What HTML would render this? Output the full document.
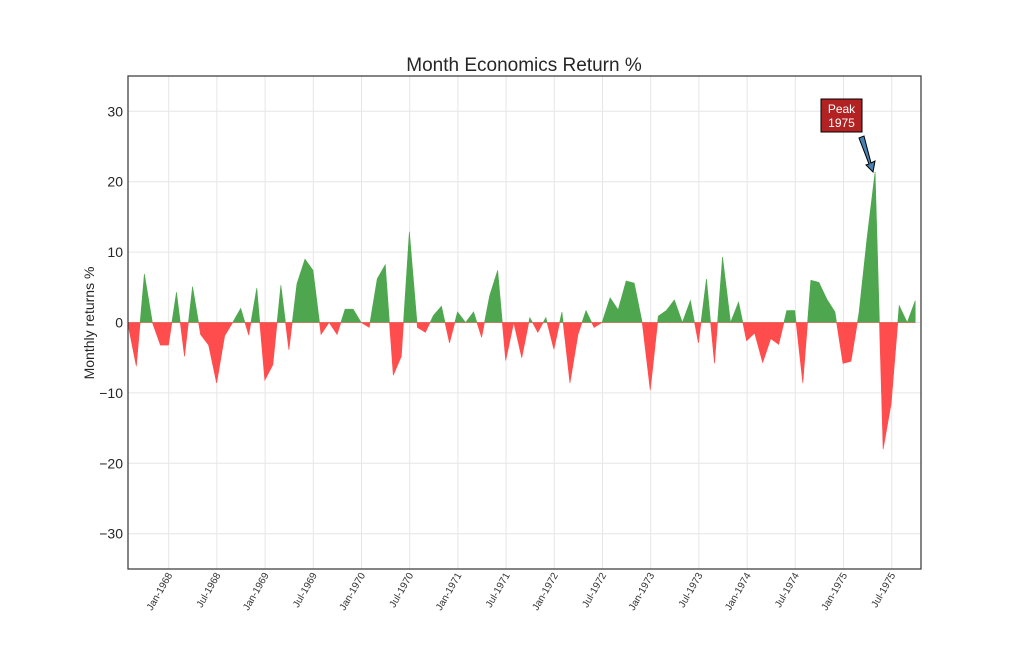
<!DOCTYPE html>
<html><head><meta charset="utf-8"><style>
body{margin:0;background:#fff;}
svg text{font-family:"Liberation Sans",sans-serif;}
</style></head><body>
<svg id="s" width="1024" height="640" xmlns="http://www.w3.org/2000/svg">
</svg>
<script>
const vals=[-0.5,-6.2,6.9,0,-3.2,-3.2,4.3,-4.8,5.1,-1.7,-3.2,-8.6,-1.9,0,2,-1.8,4.9,-8.2,-6,5.3,-3.9,5.5,9,7.4,-1.7,0,-1.7,1.9,1.9,0,-0.7,6.2,8.2,-7.5,-4.8,12.9,-0.7,-1.4,1,2.3,-2.9,1.5,0,1.5,-2.1,3.8,7.4,-5.4,0,-5,0.7,-1.4,0.7,-3.8,1.5,-8.6,-1.7,1.7,-0.7,0,3.5,1.8,5.9,5.6,0,-9.6,0.9,1.7,3.2,0,3.1,-2.9,6.2,-5.8,9.3,0,2.9,-2.6,-1.5,-5.7,-2.3,-3.1,1.7,1.7,-8.6,6,5.7,3.3,1.5,-5.8,-5.5,1.4,12,21.4,-18,-11.5,2.4,0,3.1];
const L=128,R=921,T=76,B=569;
const X=i=>128.3+8.03*i, Y=v=>322.5-7.04*v;
let h='';
// grid
for(let v=-30;v<=30;v+=10){h+=`<line x1="${L}" x2="${R}" y1="${Y(v)}" y2="${Y(v)}" stroke="#e6e6e6" stroke-width="1"/>`;}
const months=['Jan','Jul'];
for(let k=0;k<16;k++){const x=168.7+48.2*k;h+=`<line x1="${x}" x2="${x}" y1="${T}" y2="${B}" stroke="#e6e6e6" stroke-width="1"/>`;
 const lab=months[k%2]+'-'+(1968+Math.floor(k/2));
 h+=`<text transform="translate(${x+4},${B+6}) rotate(-60)" text-anchor="end" font-size="10" fill="#333">${lab}</text>`;}
// fills
function poly(sign,color){
 let pts=[];
 for(let i=0;i<vals.length;i++){
  const v=vals[i]*sign;
  if(i>0){const p=vals[i-1]*sign;
   if((p>0&&v<0)||(p<0&&v>0)){const t=p/(p-v);pts.push([X(i-1+t),0]);}}
  pts.push([X(i),Math.max(v,0)]);
 }
 let d=`M${X(0)},${Y(0)} `+pts.map(p=>`L${p[0].toFixed(2)},${Y(p[1]*sign).toFixed(2)}`).join(' ')+` L${X(vals.length-1)},${Y(0)} Z`;
 return `<path d="${d}" fill="${color}" stroke="${color}" stroke-width="0.6"/>`;
}
h+=poly(1,'#4ea74e');h+=poly(-1,'#ff4d4d');
// frame
h+=`<rect x="${L}" y="${T}" width="${R-L}" height="${B-T}" fill="none" stroke="#333" stroke-width="1.2"/>`;
for(let v=-30;v<=30;v+=10){h+=`<text x="123" y="${Y(v)+5}" text-anchor="end" font-size="14" fill="#262626">${v<0?'\u2212'+(-v):v}</text>`;}
h+=`<text x="524" y="71" text-anchor="middle" font-size="19" fill="#262626">Month Economics Return %</text>`;
h+=`<text transform="translate(94,323) rotate(-90)" text-anchor="middle" font-size="14" fill="#262626">Monthly returns %</text>`;
// annotation
h+=`<polygon points="859,138 864,136 871,163 875,161 873,172 866,165 869,164" fill="#4682b4" stroke="#000" stroke-width="1"/>`;
h+=`<rect x="821" y="99" width="41" height="33" fill="#b22222" stroke="#000" stroke-width="1"/>`;
h+=`<text x="841.5" y="113" text-anchor="middle" font-size="12" fill="#fff">Peak</text>`;
h+=`<text x="841.5" y="127" text-anchor="middle" font-size="12" fill="#fff">1975</text>`;
document.getElementById('s').innerHTML=h;
</script>
</body></html>
